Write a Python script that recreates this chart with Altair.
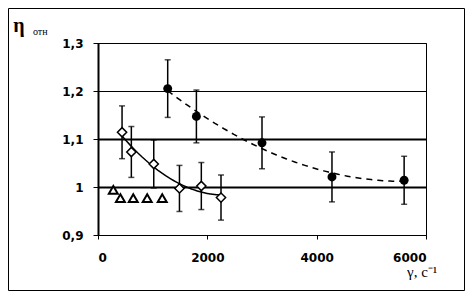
import altair as alt
import pandas as pd

# filled circles (dashed trend)
circ_x = [1275, 1800, 3000, 4280, 5600]
circ_y = [1.205, 1.147, 1.092, 1.021, 1.014]
circ_err = [0.060, 0.055, 0.054, 0.052, 0.050]

# open diamonds (solid trend)
diam_x = [440, 610, 1020, 1490, 1890, 2250]
diam_y = [1.114, 1.073, 1.048, 0.997, 1.002, 0.978]
diam_err = [0.055, 0.053, 0.050, 0.048, 0.049, 0.047]

# open triangles
tri_x = [280, 410, 645, 900, 1175]
tri_y = [0.994, 0.977, 0.977, 0.977, 0.977]

x_ticks = [0, 2000, 4000, 6000]
y_ticks = [0.9, 1.0, 1.1, 1.2, 1.3]

circ = pd.DataFrame({"x": circ_x, "y": circ_y, "e": circ_err})
diam = pd.DataFrame({"x": diam_x, "y": diam_y, "e": diam_err})
tri = pd.DataFrame({"x": tri_x, "y": tri_y})

xs = alt.Scale(domain=[0, 6000], nice=False, zero=False)
ys = alt.Scale(domain=[0.9, 1.3], nice=False, zero=False)

x_axis = alt.Axis(values=x_ticks, format="d", grid=False, title=None,
                  domainColor="black", domainWidth=1, tickColor="black",
                  tickSize=4, labelPadding=13, labelFont="DejaVu Sans",
                  labelFontWeight="bold", labelFontSize=12, labelColor="black")
y_axis = alt.Axis(values=y_ticks, title=None, grid=True, gridColor="black",
                  gridWidth={"condition": {"test": "datum.value > 0.95 && datum.value < 1.15", "value": 2}, "value": 1},
                  labelExpr="datum.value == 1 ? '1' : replace(format(datum.value, '.1f'), '.', ',')",
                  domainColor="black", domainWidth=2, tickColor="black",
                  tickSize=5, labelPadding=10, labelFont="DejaVu Sans",
                  labelFontWeight="bold", labelFontSize=12, labelColor="black")

X = alt.X("x:Q", scale=xs, axis=x_axis)
Y = alt.Y("y:Q", scale=ys, axis=y_axis)


def errbars(df):
    base = alt.Chart(df).transform_calculate(lo="datum.y - datum.e", hi="datum.y + datum.e")
    r = base.mark_rule(color="black", strokeWidth=1.5).encode(
        x=X, y=alt.Y("lo:Q", scale=ys, axis=y_axis), y2="hi:Q")
    t1 = base.mark_tick(color="black", orient="horizontal", size=6, thickness=1.5).encode(
        x=X, y=alt.Y("lo:Q", scale=ys, axis=y_axis))
    t2 = base.mark_tick(color="black", orient="horizontal", size=6, thickness=1.5).encode(
        x=X, y=alt.Y("hi:Q", scale=ys, axis=y_axis))
    return r + t1 + t2


circ_trend = alt.Chart(circ).transform_regression("x", "y", method="poly", order=2).mark_line(
    color="black", strokeWidth=1.5, strokeDash=[6, 5]).encode(x=X, y=Y)
diam_trend = alt.Chart(diam).transform_regression("x", "y", method="poly", order=2).mark_line(
    color="black", strokeWidth=1.5).encode(x=X, y=Y)

circ_pts = alt.Chart(circ).mark_point(shape="circle", filled=True, color="black", size=80, opacity=1).encode(x=X, y=Y)
diam_pts = alt.Chart(diam).mark_point(shape="diamond", filled=True, fill="white", stroke="black",
                                      strokeWidth=1.5, size=85, opacity=1).encode(x=X, y=Y)
tri_pts = alt.Chart(tri).mark_point(shape="triangle-up", filled=True, fill="white", stroke="black",
                                    strokeWidth=2, size=80, opacity=1).encode(x=X, y=Y)

one = pd.DataFrame({"a": [0]})
frame = alt.Chart(one).mark_rect(fill="white", fillOpacity=0, stroke="black", strokeWidth=1).encode(
    x=alt.value(-89.5), x2=alt.value(366.5), y=alt.value(-34.5), y2=alt.value(247.5))

eta = alt.Chart(one).mark_text(text="η", font="Liberation Serif", fontWeight="bold", fontSize=20,
                               align="center", baseline="alphabetic", color="black").encode(
    x=alt.value(-79), y=alt.value(-11))
otn = alt.Chart(one).mark_text(text="отн", font="Liberation Serif", fontSize=10,
                               align="left", baseline="alphabetic", color="black").encode(
    x=alt.value(-65), y=alt.value(-8))
gamma = alt.Chart(one).mark_text(text="γ, с⁻¹", font="Liberation Serif", fontSize=15,
                                 align="left", baseline="alphabetic", color="black").encode(
    x=alt.value(309), y=alt.value(234))

chart = alt.layer(
    frame,
    circ_trend, diam_trend,
    errbars(circ), errbars(diam),
    circ_pts, diam_pts, tri_pts,
    eta, otn, gamma,
).properties(
    width=328, height=192,
    autosize=alt.AutoSizeParams(type="none"),
    padding={"left": 90, "top": 35, "right": 39, "bottom": 56},
    background="white",
).configure_view(stroke="black", strokeWidth=1)

chart.save("out.html", embed_options={"renderer": "svg", "actions": False})
